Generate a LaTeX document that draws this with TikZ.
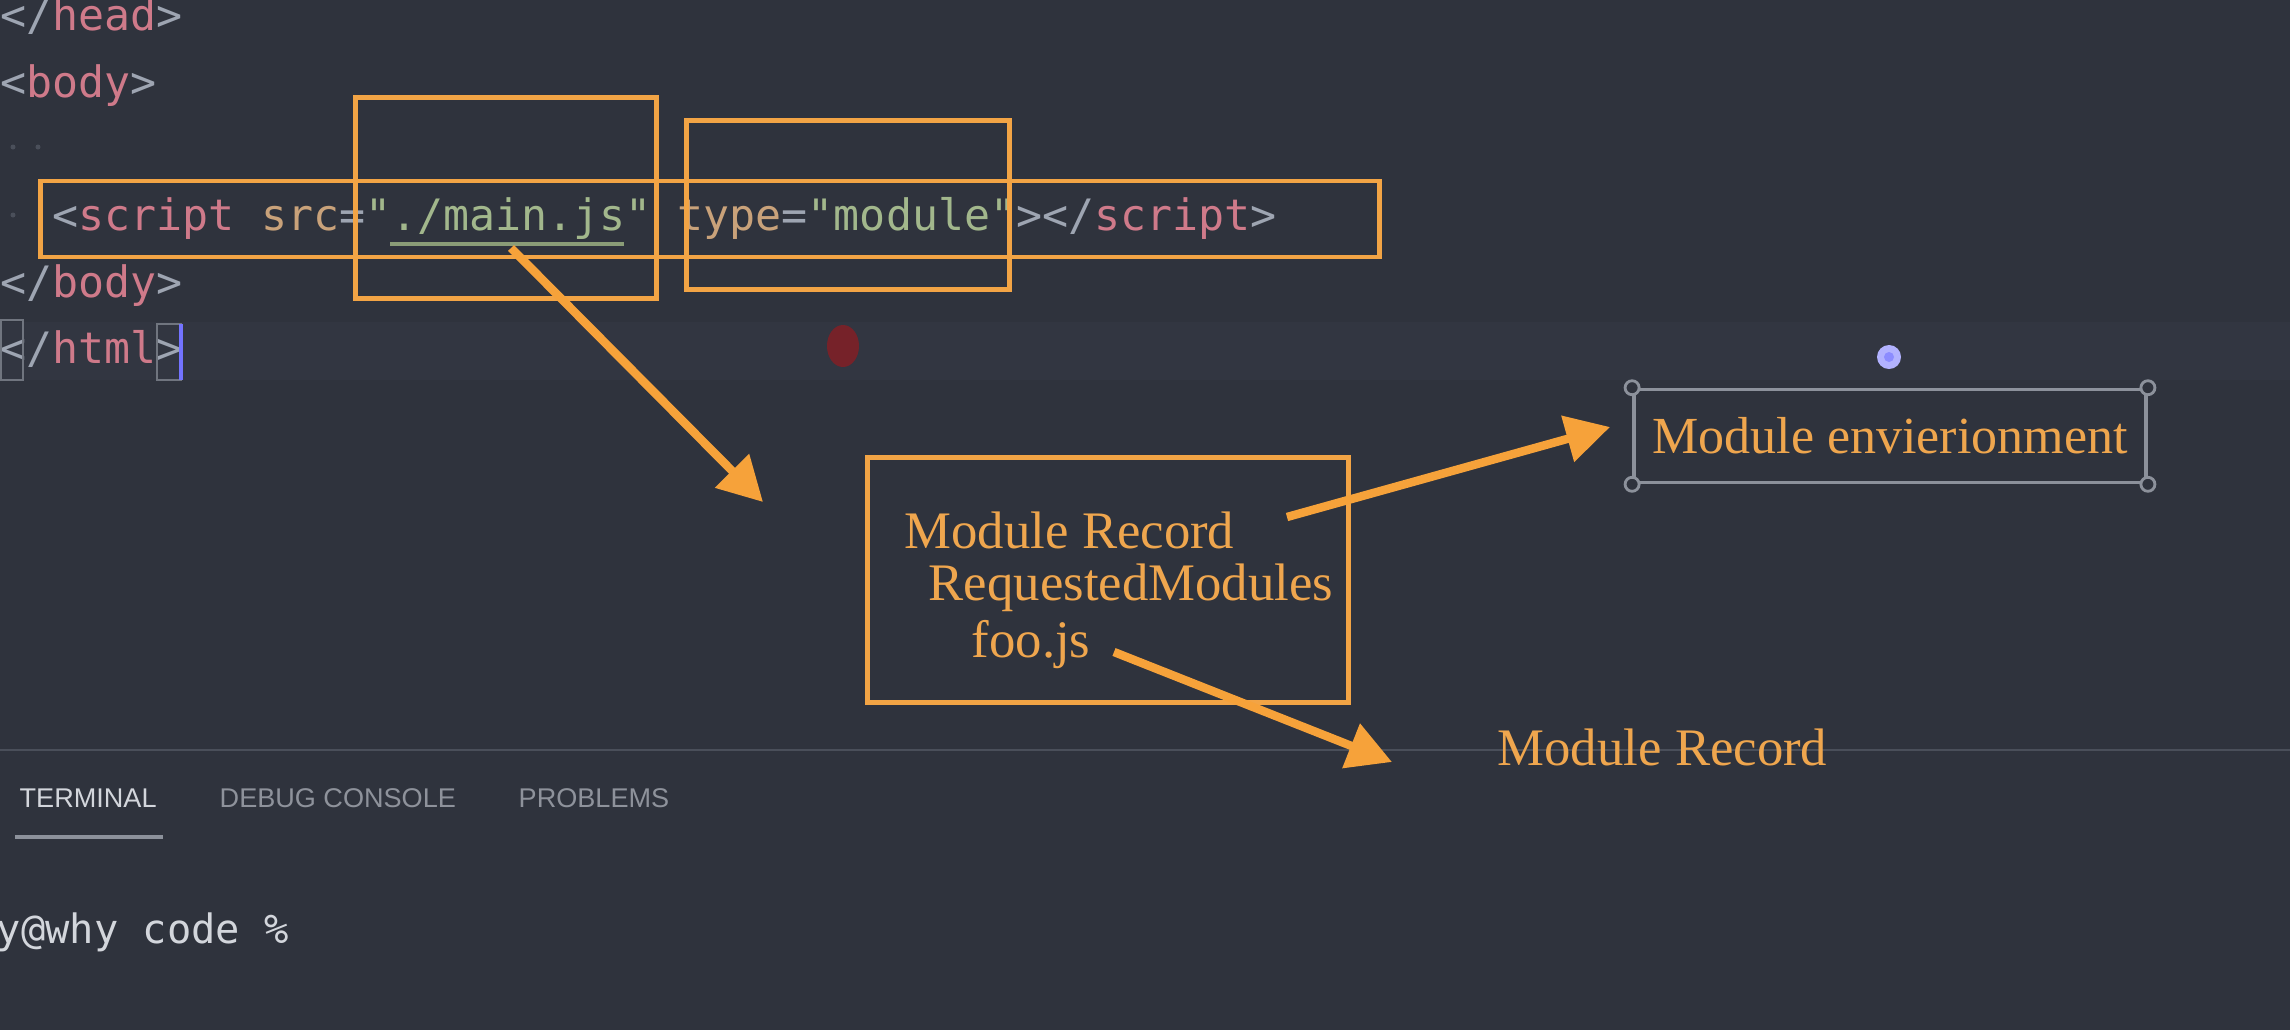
\documentclass[tikz,border=0pt]{standalone}
\usepackage{fontspec}
\setmainfont{Liberation Serif}
\setsansfont{Liberation Sans}
\setmonofont{DejaVu Sans Mono}
\usetikzlibrary{arrows.meta,positioning}

\definecolor{bgdark}{HTML}{2F333D}
\definecolor{linehl}{HTML}{323641}
\definecolor{punctgray}{HTML}{9EA5B2}
\definecolor{tagpink}{HTML}{CF7A8A}
\definecolor{attrtan}{HTML}{C9A27A}
\definecolor{strgreen}{HTML}{A2B78C}
\definecolor{boxorange}{HTML}{F2A445}
\definecolor{arroworange}{HTML}{F6A23A}
\definecolor{noteorange}{HTML}{EFA64E}
\definecolor{handlegray}{HTML}{8C919B}
\definecolor{tabwhite}{HTML}{D3D6DC}
\definecolor{tabgray}{HTML}{8E929B}
\definecolor{sepgray}{HTML}{4A4F5A}

\newcommand{\tagc}[1]{\textcolor{tagpink}{#1}}
\newcommand{\attc}[1]{\textcolor{attrtan}{#1}}
\newcommand{\strc}[1]{\textcolor{strgreen}{#1}}

\begin{document}
\begin{tikzpicture}[
  x=0.01cm, y=-0.01cm,
  codeline/.style={anchor=base west, inner sep=0pt, text=punctgray, font=\ttfamily\fontsize{12.3}{14}\selectfont},
  hlbox/.style={draw=boxorange, line width=1.4pt, inner sep=0pt},
  envframe/.style={draw=handlegray, line width=1pt, inner sep=0pt, text=noteorange, font=\fontsize{14.8}{17}\selectfont},
  handle/.style={draw=handlegray, line width=0.8pt, fill=bgdark},
  note/.style={anchor=base west, inner sep=0pt, text=noteorange, font=\fontsize{15}{18}\selectfont},
  annarrow/.style={-{Triangle[length=0.44cm,width=0.46cm]}, line width=2.4pt, draw=arroworange},
  tabtext/.style={anchor=base west, inner sep=0pt, text=tabgray, font=\sffamily\fontsize{7.7}{9}\selectfont},
  prompt/.style={anchor=base west, inner sep=0pt, text=tabwhite, font=\ttfamily\fontsize{11.5}{13}\selectfont}
]
% background and editor furniture
\fill[bgdark] (0,0) rectangle (2290,1030);
\useasboundingbox (0,0) rectangle (2290,1030);
\fill[linehl] (0,322) rectangle (2290,380);
\draw[sepgray, line width=0.6pt] (0,750) -- (2290,750);

% code lines
\node[codeline] (lhead) at (0,30) {</\tagc{head}>};
\node[codeline] (lbody) at (0,97) {<\tagc{body}>};
\node[codeline] (lscript) at (52,230) {<\tagc{script} \attc{src}=\strc{"./main.js"} \attc{type}=\strc{"module"}></\tagc{script}>};
\node[codeline] (lbodyend) at (0,297) {</\tagc{body}>};
\node[codeline] (lhtml) at (0,363) {</\tagc{html}>};
\foreach \p in {(13,147),(38,147),(13,215)}
  \fill[sepgray] \p circle (0.025cm);
\draw[strgreen!85!black, line width=1.1pt] (390,244) -- (624,244);
\draw[handlegray!70!bgdark, line width=0.6pt] (1,320) rectangle (23,380);
\draw[handlegray!70!bgdark, line width=0.6pt] (157,324) rectangle (181,380);
\draw[blue!55!white, line width=0.9pt] (181,324) -- (181,380);
\fill[red!40!bgdark, opacity=0.85] (843,346) ellipse (0.16cm and 0.21cm);

% highlight boxes
\node[hlbox, minimum width=13.38cm, minimum height=0.76cm] (scriptbox) at (710,219) {};
\node[hlbox, minimum width=3.01cm, minimum height=2.01cm] (srcbox) at (506,198) {};
\node[hlbox, minimum width=3.22cm, minimum height=1.69cm] (typebox) at (848,205) {};

% module record
\node[hlbox, minimum width=4.80cm, minimum height=2.44cm] (mrbox) at (1108,580) {};
\node[note] (mrtitle) at (904,548) {Module Record};
\node[note] (mrreq) at (928,600) {RequestedModules};
\node[note] (mrfoo) at (971,657) {foo.js};

% module environment
\node[envframe, minimum width=5.12cm, minimum height=0.93cm] (envbox) at (1890,436) {Module envierionment};
\foreach \c in {north west, north east, south west, south east}
  \draw[handle] (envbox.\c) circle (0.07cm);
\fill[blue!30!white] (1889,357) circle (0.12cm);
\fill[blue!45!white] (1889,357) circle (0.05cm);

\node[note] (mrlabel) at (1497,765) {Module Record};

% arrows
\coordinate (mainjs) at (511,248);
\coordinate (mainjstip) at (763,502);
\coordinate (mrout) at (1287,517);
\coordinate (fooout) at (1114,652);
\coordinate (mrin) at (1392,762);
\draw[annarrow] (mainjs) -- (mainjstip);
\draw[annarrow] (mrout) -- ([xshift=-0.22cm,yshift=0.09cm]envbox.west);
\draw[annarrow] (fooout) -- (mrin);

% terminal panel
\node[tabtext, text=tabwhite] (tabterm) at (19,807) {TERMINAL};
\node[tabtext] (tabdebug) at (219,807) {DEBUG CONSOLE};
\node[tabtext] (tabprob) at (518,807) {PROBLEMS};
\draw[handlegray, line width=1.4pt] (15,837) -- (163,837);
\node[prompt] (prompt) at (-4,943) {y@why code \%};
\end{tikzpicture}
\end{document}
